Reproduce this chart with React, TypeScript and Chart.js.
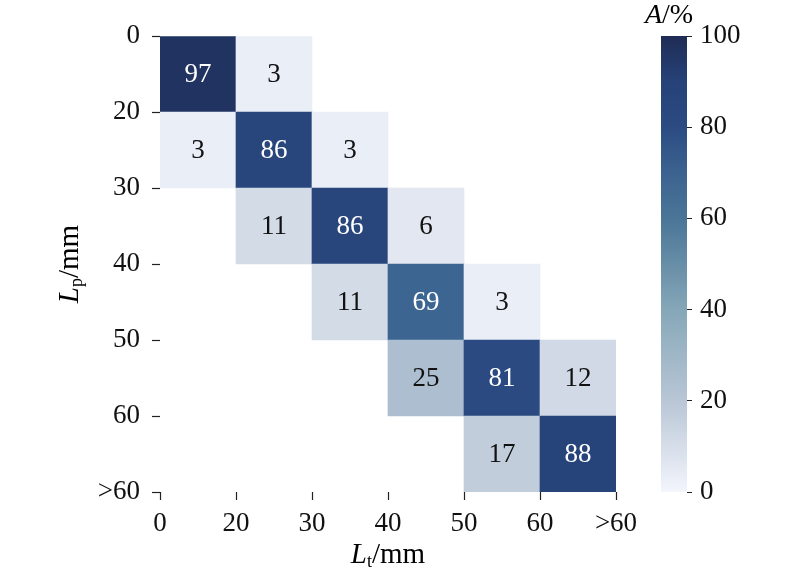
import React, { useEffect, useRef } from "react";
import { Chart, registerables } from "chart.js";

Chart.register(...registerables);

const xTickLabels = ["0", "20", "30", "40", "50", "60", ">60"];
const yTickLabels = ["0", "20", "30", "40", "50", "60", ">60"];
const cellRows = [0, 0, 1, 1, 1, 2, 2, 2, 3, 3, 3, 4, 4, 4, 5, 5];
const cellCols = [0, 1, 0, 1, 2, 1, 2, 3, 2, 3, 4, 3, 4, 5, 4, 5];
const cellValues = [97, 3, 3, 86, 3, 11, 86, 6, 11, 69, 3, 25, 81, 12, 17, 88];
const colorbarTicks = [0, 20, 40, 60, 80, 100];

const cmapStops: [number, number[]][] = [
  [0, [243, 245, 252]],
  [20, [185, 198, 214]],
  [40, [133, 167, 184]],
  [60, [74, 117, 151]],
  [70, [60, 99, 144]],
  [80, [43, 75, 130]],
  [90, [38, 66, 120]],
  [100, [31, 44, 85]],
];

function cmap(v: number): string {
  for (let i = 0; i < cmapStops.length - 1; i++) {
    const [a, ca] = cmapStops[i];
    const [b, cb] = cmapStops[i + 1];
    if (v >= a && v <= b) {
      const t = (v - a) / (b - a);
      const c = ca.map((x, k) => Math.round(x + (cb[k] - x) * t));
      return `rgb(${c[0]},${c[1]},${c[2]})`;
    }
  }
  const c = cmapStops[cmapStops.length - 1][1];
  return `rgb(${c[0]},${c[1]},${c[2]})`;
}

const SERIF = "'Liberation Serif', 'Times New Roman', serif";
const TICK_SIZE = 27;

function drawSubLabel(ctx: CanvasRenderingContext2D, main: string, sub: string, rest: string, cx: number, cy: number, rotate: boolean) {
  ctx.save();
  ctx.translate(cx, cy);
  if (rotate) ctx.rotate(-Math.PI / 2);
  ctx.fillStyle = "#000";
  ctx.textBaseline = "middle";
  ctx.textAlign = "left";
  const f1 = `italic 29px ${SERIF}`;
  const f2 = `18px ${SERIF}`;
  const f3 = `29px ${SERIF}`;
  ctx.font = f1;
  const w1 = ctx.measureText(main).width;
  ctx.font = f2;
  const w2 = ctx.measureText(sub).width;
  ctx.font = f3;
  const w3 = ctx.measureText(rest).width;
  let x = -(w1 + w2 + w3) / 2;
  ctx.font = f1;
  ctx.fillText(main, x, 0);
  x += w1;
  ctx.font = f2;
  ctx.fillText(sub, x, 7);
  x += w2;
  ctx.font = f3;
  ctx.fillText(rest, x, 0);
  ctx.restore();
}

export default function App() {
  const mainRef = useRef<HTMLCanvasElement>(null);
  const barRef = useRef<HTMLCanvasElement>(null);

  useEffect(() => {
    const labelPlugin = {
      id: "cellLabels",
      afterDatasetsDraw(chart: any) {
        const ctx = chart.ctx;
        const meta = chart.getDatasetMeta(0);
        ctx.save();
        ctx.font = `27px ${SERIF}`;
        ctx.textAlign = "center";
        ctx.textBaseline = "middle";
        meta.data.forEach((el: any, i: number) => {
          const p = el.getProps(["x", "y", "base"], true);
          const v = cellValues[i];
          ctx.fillStyle = v > 50 ? "#ffffff" : "#111111";
          ctx.fillText(String(v), p.x, (p.y + p.base) / 2 + 1);
        });
        ctx.restore();
      },
      afterDraw(chart: any) {
        const ctx = chart.ctx;
        const area = chart.chartArea;
        drawSubLabel(ctx, "L", "p", "/mm", 70, (area.top + area.bottom) / 2, true);
        drawSubLabel(ctx, "L", "t", "/mm", (area.left + area.right) / 2, 555, false);
      },
    };

    const main = new Chart(mainRef.current!, {
      type: "bar",
      data: {
        datasets: [
          {
            data: cellValues.map((v, i) => ({ x: cellCols[i] + 0.5, y: [cellRows[i], cellRows[i] + 1] })) as any,
            backgroundColor: cellValues.map((v) => cmap(v)),
            borderWidth: 0,
            barPercentage: 1,
            categoryPercentage: 1,
          },
        ],
      },
      options: {
        animation: false,
        responsive: false,
        events: [],
        layout: { padding: { left: 0, right: 184, top: 36, bottom: 0 } },
        plugins: { legend: { display: false }, tooltip: { enabled: false } },
        scales: {
          x: {
            type: "linear",
            min: 0,
            max: 6,
            offset: false,
            afterBuildTicks: (s: any) => {
              s.ticks = xTickLabels.map((_, i) => ({ value: i }));
            },
            afterFit: (s: any) => {
              s.height = 89;
            },
            ticks: {
              callback: (v: any) => xTickLabels[v],
              color: "#111",
              font: { family: SERIF, size: TICK_SIZE },
              padding: 8,
              maxRotation: 0,
              autoSkip: false,
            },
            grid: { offset: false, drawOnChartArea: false, drawTicks: true, tickLength: 8, color: "#222", tickWidth: 1.2 },
            border: { display: false },
          },
          y: {
            type: "linear",
            reverse: true,
            min: 0,
            max: 6,
            afterBuildTicks: (s: any) => {
              s.ticks = yTickLabels.map((_, i) => ({ value: i }));
            },
            afterFit: (s: any) => {
              s.width = 160;
            },
            ticks: {
              callback: (v: any) => yTickLabels[v],
              color: "#111",
              font: { family: SERIF, size: TICK_SIZE },
              padding: 12,
              autoSkip: false,
            },
            grid: { offset: false, drawOnChartArea: false, drawTicks: true, tickLength: 8, color: "#222", tickWidth: 1.2 },
            border: { display: false },
          },
        },
      },
      plugins: [labelPlugin],
    });

    const cbTitle = {
      id: "cbTitle",
      afterDraw(chart: any) {
        const ctx = chart.ctx;
        ctx.save();
        ctx.fillStyle = "#000";
        ctx.textBaseline = "middle";
        ctx.textAlign = "left";
        ctx.font = `italic 28px ${SERIF}`;
        const w1 = ctx.measureText("A").width;
        ctx.font = `28px ${SERIF}`;
        const w2 = ctx.measureText("/%").width;
        const x = 49 - (w1 + w2) / 2;
        ctx.font = `italic 28px ${SERIF}`;
        ctx.fillText("A", x, 16);
        ctx.font = `28px ${SERIF}`;
        ctx.fillText("/%", x + w1, 16);
        ctx.restore();
      },
    };

    const cb = new Chart(barRef.current!, {
      type: "bar",
      data: {
        labels: [""],
        datasets: [
          {
            data: [[0, 100]] as any,
            backgroundColor: (c: any) => {
              const area = c.chart.chartArea;
              if (!area) return "#888";
              const g = c.chart.ctx.createLinearGradient(0, area.bottom, 0, area.top);
              cmapStops.forEach(([v]) => g.addColorStop(v / 100, cmap(v)));
              return g;
            },
            borderWidth: 0,
            barPercentage: 1,
            categoryPercentage: 1,
          },
        ],
      },
      options: {
        animation: false,
        responsive: false,
        events: [],
        layout: { padding: { left: 41, right: 0, top: 36, bottom: 89 } },
        plugins: { legend: { display: false }, tooltip: { enabled: false } },
        scales: {
          x: { display: false },
          y: {
            position: "right",
            min: 0,
            max: 100,
            afterBuildTicks: (s: any) => {
              s.ticks = colorbarTicks.map((v) => ({ value: v }));
            },
            afterFit: (s: any) => {
              s.width = 113;
            },
            ticks: {
              color: "#111",
              font: { family: SERIF, size: TICK_SIZE },
              padding: 8,
            },
            grid: { drawOnChartArea: false, drawTicks: true, tickLength: 5, color: "#222" },
            border: { display: false },
          },
        },
      },
      plugins: [cbTitle],
    });

    return () => {
      main.destroy();
      cb.destroy();
    };
  }, []);

  return (
    <div style={{ position: "absolute", left: 0, top: 0, width: 800, height: 581, background: "#fff" }}>
      <canvas ref={mainRef} width={800} height={581} style={{ position: "absolute", left: 0, top: 0, width: 800, height: 581 }} />
      <canvas ref={barRef} width={180} height={581} style={{ position: "absolute", left: 620, top: 0, width: 180, height: 581 }} />
    </div>
  );
}
